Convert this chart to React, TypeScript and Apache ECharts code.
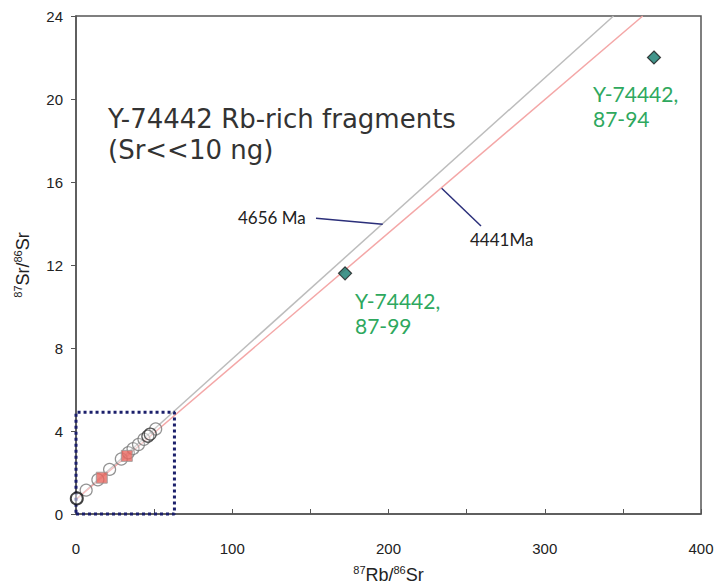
import React, { useEffect, useRef } from "react";
import * as echarts from "echarts";

// Isochron reference lines (87Rb/86Sr, 87Sr/86Sr)
const isochron4656: number[][] = [[0, 0.699], [344, 24]];
const isochron4441: number[][] = [[0, 0.699], [362.7, 24]];

// Measured points
const openCircles: number[][] = [
  [6.5, 1.15], [14, 1.65], [21.5, 2.15], [29, 2.65], [33.5, 2.95],
  [36.5, 3.15], [40, 3.35], [43.5, 3.6], [51, 4.1],
];
const darkCircles: number[][] = [[46, 3.75], [47.5, 3.85]];
const originPoint: number[][] = [[0.5, 0.75]];
const redSquares: number[][] = [[16.5, 1.75], [32.5, 2.8]];
const rbRichFragments: number[][] = [[172.2, 11.6], [369.9, 22.0]];

// Enlarged-area box and leader lines (data coordinates)
const zoomBox: number[][] = [[0, 0], [63, 0], [63, 4.9], [0, 4.9], [0, 0]];
const leader4656: number[][] = [[153.6, 14.25], [196.3, 13.96]];
const leader4441: number[][] = [[234, 15.7], [259.2, 13.88]];

const xTicks = { min: 0, max: 400, interval: 50, labelStep: 100 };
const yTicks = { min: 0, max: 24, interval: 4 };

export default function App() {
  const ref = useRef<HTMLDivElement>(null);
  useEffect(() => {
    if (!ref.current) return;
    const chart = echarts.init(ref.current, null, { renderer: "svg" });
    const axisColor = "#555";
    const labelFont = "'Liberation Sans', Arial, sans-serif";
    const annFont = "Lato, 'Noto Sans', sans-serif";
    const titleFont = "'DejaVu Sans', sans-serif";
    const nameRich = {
      sup: { fontSize: 11, fontFamily: labelFont, color: "#222", verticalAlign: "top", lineHeight: 22 },
      base: { fontSize: 18, fontFamily: labelFont, color: "#222", lineHeight: 22 },
    };
    chart.setOption({
      animation: false,
      backgroundColor: "#fff",
      grid: {
        left: 76, right: 14, top: 16, bottom: 71,
        outerBoundsMode: "none",
        containLabel: false,
        show: true, borderColor: axisColor, borderWidth: 1.5,
      },
      xAxis: {
        type: "value",
        min: xTicks.min, max: xTicks.max, interval: xTicks.interval,
        axisLine: { show: true, onZero: false, lineStyle: { color: axisColor, width: 1.5 } },
        axisTick: { show: true, inside: true, length: 5, lineStyle: { color: axisColor } },
        axisLabel: {
          margin: 27, color: "#222", fontSize: 15, fontFamily: labelFont,
          formatter: (v: number) => (v % xTicks.labelStep === 0 ? String(v) : ""),
        },
        splitLine: { show: false },
        name: "{sup|87}{base|Rb/}{sup|86}{base|Sr}",
        nameLocation: "middle",
        nameGap: 50,
        nameTextStyle: { rich: nameRich },
      },
      yAxis: {
        type: "value",
        min: yTicks.min, max: yTicks.max, interval: yTicks.interval,
        axisLine: { show: true, onZero: false, lineStyle: { color: axisColor, width: 1.5 } },
        axisTick: { show: true, inside: false, length: 5, lineStyle: { color: axisColor } },
        axisLabel: { margin: 13, color: "#222", fontSize: 15, fontFamily: labelFont },
        splitLine: { show: false },
        name: "{sup|87}{base|Sr/}{sup|86}{base|Sr}",
        nameLocation: "middle",
        nameGap: 42,
        nameRotate: 90,
        nameTextStyle: { rich: nameRich },
      },
      series: [
        {
          type: "line", data: isochron4656, symbol: "none", silent: true, z: 2,
          lineStyle: { color: "#bdbdbd", width: 1.5 },
        },
        {
          type: "line", data: isochron4441, symbol: "none", silent: true, z: 2,
          lineStyle: { color: "#f4a7a7", width: 1.5 },
        },
        {
          type: "line", data: zoomBox, symbol: "none", silent: true, clip: false, z: 3,
          lineStyle: { color: "#1b1f6b", width: 3, type: [3, 3] },
        },
        {
          type: "line", data: leader4656, symbol: "none", silent: true, z: 3,
          lineStyle: { color: "#2b2f7a", width: 1.5 },
        },
        {
          type: "line", data: leader4441, symbol: "none", silent: true, z: 3,
          lineStyle: { color: "#2b2f7a", width: 1.5 },
        },
        {
          type: "scatter", data: openCircles, symbol: "circle", symbolSize: 12, z: 4,
          itemStyle: { color: "rgba(255,255,255,0.35)", borderColor: "#777", borderWidth: 1.2 },
        },
        {
          type: "scatter", data: darkCircles, symbol: "circle", symbolSize: 12, z: 4,
          itemStyle: { color: "rgba(255,255,255,0.35)", borderColor: "#333", borderWidth: 1.3 },
        },
        {
          type: "scatter", data: redSquares, symbol: "rect", symbolSize: 11, z: 5,
          itemStyle: { color: "#e8675f", borderColor: "#999", borderWidth: 1 },
        },
        {
          type: "scatter", data: originPoint, symbol: "circle", symbolSize: 12, z: 5, clip: false,
          itemStyle: { color: "rgba(255,255,255,0.6)", borderColor: "#111", borderWidth: 2 },
        },
        {
          type: "scatter", data: rbRichFragments, symbol: "diamond", symbolSize: 13, z: 5,
          itemStyle: { color: "#137a6e", borderColor: "#1a1a1a", borderWidth: 1.2 },
        },
      ],
      graphic: [
        {
          type: "text", left: 108, top: 106, z: 10,
          style: { text: "Y-74442 Rb-rich fragments", fontSize: 26, fill: "#333", fontFamily: titleFont },
        },
        {
          type: "text", left: 108, top: 137, z: 10,
          style: { text: "(Sr<<10 ng)", fontSize: 26, fill: "#333", fontFamily: titleFont },
        },
        {
          type: "text", left: 355, top: 288, z: 10,
          style: { text: "Y-74442,\n87-99", fontSize: 21, lineHeight: 25, fill: "#2ea85e", fontFamily: annFont },
        },
        {
          type: "text", left: 593, top: 81, z: 10,
          style: { text: "Y-74442,\n87-94", fontSize: 21, lineHeight: 25, fill: "#2ea85e", fontFamily: annFont },
        },
        {
          type: "text", left: 238, top: 209, z: 10,
          style: { text: "4656 Ma", fontSize: 17, fill: "#222", fontFamily: annFont },
        },
        {
          type: "text", left: 470, top: 231, z: 10,
          style: { text: "4441Ma", fontSize: 17, fill: "#222", fontFamily: annFont },
        },
      ],
    });
    return () => chart.dispose();
  }, []);
  return (
    <div
      ref={ref}
      style={{ position: "fixed", left: 0, top: 0, width: 715, height: 585, background: "#fff" }}
    />
  );
}
